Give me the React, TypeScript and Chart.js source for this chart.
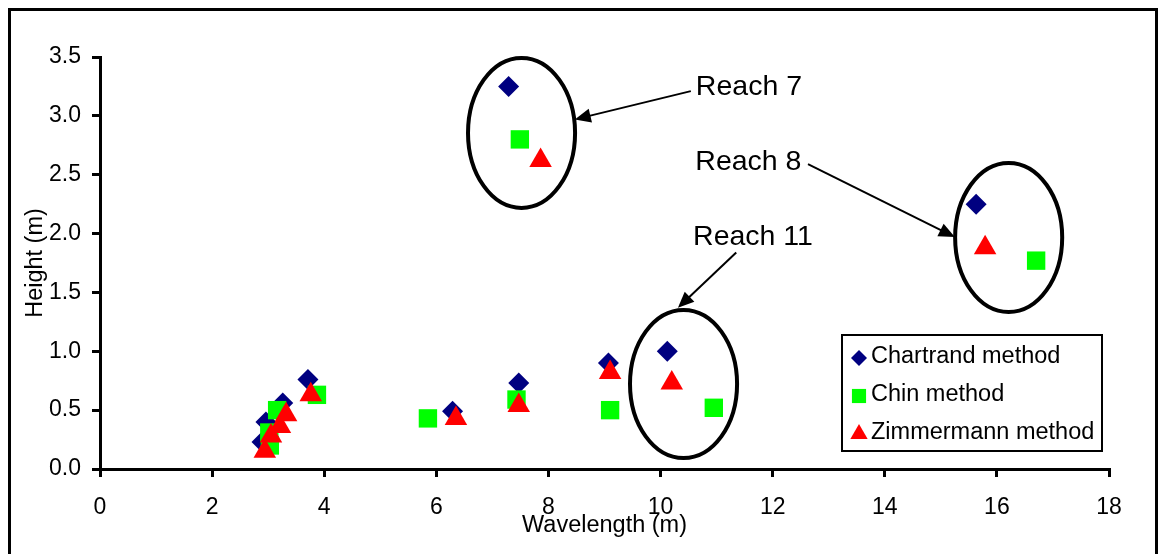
import React, { useEffect, useRef } from "react";
import { Chart, registerables } from "chart.js";

Chart.register(...registerables);

// ---- data ----
const seriesNames = ["Chartrand method", "Chin method", "Zimmermann method"];

const chartrandX = [2.89, 2.96, 3.26, 3.71, 6.29, 7.47, 9.07, 10.12, 7.29, 15.63];
const chartrandY = [0.23, 0.40, 0.56, 0.76, 0.49, 0.73, 0.90, 1.00, 3.25, 2.25];

const chinX = [3.03, 3.02, 3.16, 3.87, 5.85, 7.43, 9.10, 10.95, 7.49, 16.70];
const chinY = [0.20, 0.31, 0.50, 0.63, 0.43, 0.59, 0.50, 0.52, 2.80, 1.77];

const zimX = [2.94, 3.05, 3.21, 3.32, 3.76, 6.35, 7.47, 9.10, 10.20, 7.86, 15.79];
const zimY = [0.15, 0.28, 0.36, 0.46, 0.63, 0.43, 0.54, 0.82, 0.73, 2.62, 1.88];

const xTickValues = [0, 2, 4, 6, 8, 10, 12, 14, 16, 18];
const yTickValues = [0, 0.5, 1.0, 1.5, 2.0, 2.5, 3.0, 3.5];

const xTitle = "Wavelength (m)";
const yTitle = "Height (m)";

// annotations (data coordinates)
const reachLabels = ["Reach 7", "Reach 8", "Reach 11"];
const reachLabelX = [10.63, 10.62, 10.58];
const reachLabelY = [3.24, 2.61, 1.97];
const ellipseCX = [7.52, 16.21, 10.41];
const ellipseCY = [2.855, 1.967, 0.722];
const ellipseRX = [0.955, 0.955, 0.955];
const ellipseRY = [0.637, 0.633, 0.629];
const arrowFromX = [10.54, 12.63, 11.35];
const arrowFromY = [3.21, 2.59, 1.84];
const arrowToX = [8.47, 15.25, 10.31];
const arrowToY = [2.97, 1.97, 1.37];

const FONT = "'Liberation Sans', Arial, sans-serif";

const toPoints = (xs: number[], ys: number[]) => xs.map((x, i) => ({ x, y: ys[i] }));

function drawMarker(ctx: CanvasRenderingContext2D, style: string, x: number, y: number, r: number, color: string) {
  ctx.beginPath();
  if (style === "rectRot") {
    ctx.moveTo(x - r, y);
    ctx.lineTo(x, y - r);
    ctx.lineTo(x + r, y);
    ctx.lineTo(x, y + r);
  } else if (style === "rect") {
    const s = Math.SQRT1_2 * r;
    ctx.rect(x - s, y - s, 2 * s, 2 * s);
  } else {
    const w = r * Math.sin(Math.PI / 3);
    ctx.moveTo(x, y - r);
    ctx.lineTo(x + w, y + r / 2);
    ctx.lineTo(x - w, y + r / 2);
  }
  ctx.closePath();
  ctx.fillStyle = color;
  ctx.fill();
}

const annotationPlugin = {
  id: "reachAnnotations",
  afterDatasetsDraw(chart: any) {
    const { ctx, scales } = chart;
    const xs = scales.x;
    const ys = scales.y;
    ctx.save();
    ctx.strokeStyle = "#000";
    ctx.fillStyle = "#000";
    for (let i = 0; i < reachLabels.length; i++) {
      // ellipse
      const cx = xs.getPixelForValue(ellipseCX[i]);
      const cy = ys.getPixelForValue(ellipseCY[i]);
      const rx = Math.abs(xs.getPixelForValue(ellipseCX[i] + ellipseRX[i]) - cx);
      const ry = Math.abs(ys.getPixelForValue(ellipseCY[i] + ellipseRY[i]) - cy);
      ctx.beginPath();
      ctx.lineWidth = 4;
      ctx.ellipse(cx, cy, rx, ry, 0, 0, Math.PI * 2);
      ctx.stroke();
      // arrow
      const x1 = xs.getPixelForValue(arrowFromX[i]);
      const y1 = ys.getPixelForValue(arrowFromY[i]);
      const x2 = xs.getPixelForValue(arrowToX[i]);
      const y2 = ys.getPixelForValue(arrowToY[i]);
      const ang = Math.atan2(y2 - y1, x2 - x1);
      const headL = 16;
      const headW = 7;
      ctx.beginPath();
      ctx.lineWidth = 2;
      ctx.moveTo(x1, y1);
      ctx.lineTo(x2 - Math.cos(ang) * headL * 0.8, y2 - Math.sin(ang) * headL * 0.8);
      ctx.stroke();
      ctx.beginPath();
      ctx.moveTo(x2, y2);
      ctx.lineTo(
        x2 - Math.cos(ang) * headL - Math.sin(ang) * headW,
        y2 - Math.sin(ang) * headL + Math.cos(ang) * headW
      );
      ctx.lineTo(
        x2 - Math.cos(ang) * headL + Math.sin(ang) * headW,
        y2 - Math.sin(ang) * headL - Math.cos(ang) * headW
      );
      ctx.closePath();
      ctx.fill();
      // label
      ctx.font = `28.5px ${FONT}`;
      ctx.textAlign = "left";
      ctx.textBaseline = "middle";
      ctx.fillText(reachLabels[i], xs.getPixelForValue(reachLabelX[i]), ys.getPixelForValue(reachLabelY[i]));
    }
    ctx.restore();
  },
};

const legendBoxPlugin = {
  id: "legendBox",
  afterDraw(chart: any) {
    const { ctx, chartArea } = chart;
    const left = chartArea.right - 267;
    const top = chartArea.top + 278;
    const w = 260;
    const h = 116;
    ctx.save();
    ctx.fillStyle = "#fff";
    ctx.fillRect(left, top, w, h);
    ctx.strokeStyle = "#000";
    ctx.lineWidth = 2;
    ctx.strokeRect(left, top, w, h);
    const legendR = [8, 10, 10];
    chart.data.datasets.forEach((ds: any, i: number) => {
      const rowY = top + 22 + i * 38;
      drawMarker(ctx, ds.pointStyle, left + 17, rowY + 1, legendR[i], ds.backgroundColor);
      ctx.fillStyle = "#000";
      ctx.font = `23.5px ${FONT}`;
      ctx.textAlign = "left";
      ctx.textBaseline = "middle";
      ctx.fillText(ds.label, left + 29, rowY);
    });
    ctx.restore();
  },
};

export default function App() {
  const canvasRef = useRef<HTMLCanvasElement>(null);

  useEffect(() => {
    const canvas = canvasRef.current;
    if (!canvas) return;
    const axisCommon = {
      grid: {
        display: true,
        drawOnChartArea: false,
        drawTicks: true,
        tickLength: 8,
        tickWidth: 3,
        tickColor: "#000",
        color: "#000",
        lineWidth: 3,
      },
      border: { display: true, color: "#000", width: 3 },
    };
    const chart = new Chart(canvas, {
      type: "scatter",
      data: {
        datasets: [
          {
            label: seriesNames[0],
            data: toPoints(chartrandX, chartrandY),
            pointStyle: "rectRot",
            pointRadius: 10.5,
            pointHoverRadius: 10.5,
            backgroundColor: "#000080",
            borderColor: "#000080",
            borderWidth: 0,
            order: 3,
          },
          {
            label: seriesNames[1],
            data: toPoints(chinX, chinY),
            pointStyle: "rect",
            pointRadius: 13,
            pointHoverRadius: 13,
            backgroundColor: "#00ff00",
            borderColor: "#00ff00",
            borderWidth: 0,
            order: 2,
          },
          {
            label: seriesNames[2],
            data: toPoints(zimX, zimY),
            pointStyle: "triangle",
            pointRadius: 13,
            pointHoverRadius: 13,
            backgroundColor: "#ff0000",
            borderColor: "#ff0000",
            borderWidth: 0,
            order: 1,
          },
        ],
      },
      options: {
        animation: false,
        responsive: false,
        events: [],
        layout: { padding: { left: 0, right: 46, top: 46, bottom: 11 } },
        plugins: {
          legend: { display: false },
          tooltip: { enabled: false },
        },
        scales: {
          x: {
            type: "linear",
            min: 0,
            max: 18,
            ...axisCommon,
            afterBuildTicks: (scale: any) => {
              scale.ticks = xTickValues.map((v) => ({ value: v }));
            },
            afterFit: (scale: any) => {
              scale.height = 71;
              scale.paddingLeft = 0;
              scale.paddingRight = 0;
            },
            ticks: {
              color: "#000",
              padding: 17,
              maxRotation: 0,
              font: { family: FONT, size: 23 },
              callback: (v: any) => String(v),
            },
            title: {
              display: true,
              text: xTitle,
              color: "#000",
              padding: { top: 0, bottom: 0 },
              font: { family: FONT, size: 23.5 },
            },
          },
          y: {
            type: "linear",
            min: 0,
            max: 3.5,
            ...axisCommon,
            afterBuildTicks: (scale: any) => {
              scale.ticks = yTickValues.map((v) => ({ value: v }));
            },
            afterFit: (scale: any) => {
              scale.width = 89;
              scale.paddingTop = 0;
              scale.paddingBottom = 0;
            },
            ticks: {
              color: "#000",
              padding: 11,
              font: { family: FONT, size: 23 },
              callback: (v: any) => Number(v).toFixed(1),
            },
            title: {
              display: true,
              text: yTitle,
              color: "#000",
              padding: { top: 10, bottom: 0 },
              font: { family: FONT, size: 23.5 },
            },
          },
        },
      },
      plugins: [annotationPlugin, legendBoxPlugin],
    } as any);
    return () => chart.destroy();
  }, []);

  return (
    <div
      style={{
        position: "fixed",
        left: 8,
        top: 8,
        width: 1150,
        height: 560,
        border: "3px solid #000",
        boxSizing: "border-box",
        background: "#fff",
      }}
    >
      <canvas
        ref={canvasRef}
        width={1144}
        height={540}
        style={{ display: "block", width: 1144, height: 540 }}
      />
    </div>
  );
}
